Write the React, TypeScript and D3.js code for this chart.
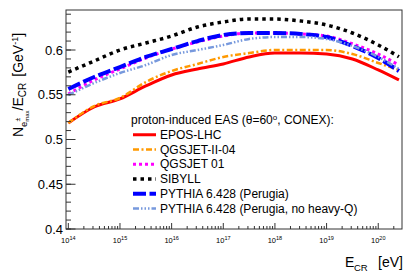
import React from "react";
import * as d3 from "d3";

const logE = [14, 14.5, 15, 15.5, 16, 16.5, 17, 17.5, 18, 18.5, 19, 19.5, 20, 20.4];
const eposLHC = [0.5184, 0.5363, 0.5453, 0.5598, 0.5721, 0.5788, 0.5844, 0.5922, 0.5966, 0.5966, 0.5955, 0.59, 0.5777, 0.5665];
const qgsjetII04 = [0.5184, 0.5374, 0.5464, 0.5642, 0.5765, 0.5844, 0.5922, 0.5966, 0.6, 0.6, 0.6, 0.5955, 0.5855, 0.5777];
const qgsjet01 = [0.5508, 0.5665, 0.5788, 0.591, 0.601, 0.609, 0.6156, 0.619, 0.619, 0.618, 0.6156, 0.607, 0.5955, 0.5832];
const sibyll = [0.5754, 0.5877, 0.6, 0.6078, 0.6156, 0.6257, 0.6313, 0.6346, 0.6346, 0.6324, 0.628, 0.619, 0.6056, 0.5925];
const pythia = [0.5564, 0.5698, 0.581, 0.5922, 0.6011, 0.61, 0.6168, 0.619, 0.619, 0.6179, 0.6145, 0.6045, 0.591, 0.5765];
const pythiaNoHQ = [0.5497, 0.5631, 0.5743, 0.5832, 0.5944, 0.6, 0.6056, 0.6123, 0.6145, 0.6145, 0.6123, 0.6045, 0.5922, 0.5788];

const yMajorTicks = [0.4, 0.45, 0.5, 0.55, 0.6];
const yTickLabels = ["0.4", "0.45", "0.5", "0.55", "0.6"];
const xDecades = [14, 15, 16, 17, 18, 19, 20];

const legendTitle = "proton-induced EAS (θ=60";
const legendTitleEnd = ", CONEX):";

const series = [
  { name: "EPOS-LHC", values: eposLHC, color: "#ff0000", width: 3, dash: "none" },
  { name: "QGSJET-II-04", values: qgsjetII04, color: "#ff9900", width: 2.5, dash: "6 2.5 2 2.5" },
  { name: "QGSJET 01", values: qgsjet01, color: "#ff00ff", width: 3, dash: "3 3" },
  { name: "SIBYLL", values: sibyll, color: "#000000", width: 3.5, dash: "3.5 4" },
  { name: "PYTHIA 6.428 (Perugia)", values: pythia, color: "#0000ff", width: 4, dash: "13 3.5" },
  { name: "PYTHIA 6.428 (Perugia, no heavy-Q)", values: pythiaNoHQ, color: "#7799dd", width: 2.5, dash: "6 2 1.5 2 1.5 2 1.5 2" },
];

const FONT = "'Liberation Sans', Arial, Helvetica, sans-serif";

export default function App() {
  const W = 414, H = 272;
  const left = 66, right = 402, top = 10, bottom = 229;
  const x = d3.scaleLog().domain([Math.pow(10, 13.955), Math.pow(10, 20.46)]).range([left, right]);
  const y = d3.scaleLinear().domain([0.4, 0.6447]).range([bottom, top]);

  const line = (vals: number[]) =>
    d3.line<number>()
      .x((_, i) => x(Math.pow(10, logE[i])))
      .y((v) => y(v))
      .curve(d3.curveMonotoneX)(vals) || "";

  const yMinor: number[] = d3.range(40, 65).map((v) => v / 100).filter((v) => y(v) >= top);
  const xMinor: number[] = [];
  for (let d = 13; d <= 20; d++) {
    for (let m = 2; m <= 9; m++) {
      const v = m * Math.pow(10, d);
      if (x(v) > left && x(v) < right) xMinor.push(v);
    }
  }

  const legendY0 = 124;
  const legendStep = 14.75;

  return (
    <svg width={W} height={H} style={{ position: "absolute", left: 0, top: 0 }} fontFamily={FONT}>
      <rect width={W} height={H} fill="#fff" />
      <defs>
        <clipPath id="plot">
          <rect x={left} y={top} width={right - left} height={bottom - top} />
        </clipPath>
      </defs>
      {/* curves */}
      <g clipPath="url(#plot)" fill="none">
        {series.map((s) => (
          <path key={s.name} d={line(s.values)} stroke={s.color} strokeWidth={s.width}
            strokeDasharray={s.dash === "none" ? undefined : s.dash} />
        ))}
      </g>
      {/* frame */}
      <rect x={left} y={top} width={right - left} height={bottom - top} fill="none" stroke="#333" strokeWidth={1} />
      {/* y ticks */}
      {yMinor.map((v) => (
        <line key={"ym" + v} x1={left} x2={left + 5} y1={y(v)} y2={y(v)} stroke="#333" />
      ))}
      {yMajorTicks.map((v, i) => (
        <g key={"y" + v}>
          <line x1={left} x2={left + 9.5} y1={y(v)} y2={y(v)} stroke="#333" />
          <text x={63} y={y(v) + 4.5} textAnchor="end" fontSize={13} fill="#000">{yTickLabels[i]}</text>
        </g>
      ))}
      {/* x ticks */}
      {xMinor.map((v) => (
        <line key={"xm" + v} x1={x(v)} x2={x(v)} y1={bottom} y2={bottom - 3} stroke="#333" />
      ))}
      {xDecades.map((d) => (
        <g key={"x" + d}>
          <line x1={x(Math.pow(10, d))} x2={x(Math.pow(10, d))} y1={bottom} y2={bottom - 6} stroke="#333" />
          <text x={x(Math.pow(10, d))} y={243} textAnchor="middle" fontSize={7.5} fill="#000">
            10<tspan dy={-3.5} fontSize={5.5}>{d}</tspan>
          </text>
        </g>
      ))}
      {/* axis titles */}
      <text x={345} y={267} fontSize={14} fill="#000">E</text>
      <text x={354} y={270.5} fontSize={9.5} fill="#000">CR</text>
      <text x={403} y={267} textAnchor="end" fontSize={14} fill="#000">[eV]</text>
      <text transform="translate(23,137) rotate(-90)" fontSize={14} fill="#000">
        N<tspan dy={3.5} fontSize={9.5}>e</tspan>
        <tspan dy={-6.5} fontSize={7}>±</tspan>
        <tspan dx={-4} dy={9} fontSize={6}>max</tspan>
        <tspan dy={-6}>/E</tspan>
        <tspan dy={3} fontSize={10}>CR</tspan>
        <tspan dx={6} dy={-3}>[GeV</tspan>
        <tspan dy={-5.5} fontSize={9}>-1</tspan>
        <tspan dy={5.5}>]</tspan>
      </text>
      {/* legend */}
      <text x={131} y={legendY0} fontSize={12} fill="#000">
        {legendTitle}<tspan dy={-4.5} fontSize={8}>o</tspan><tspan dy={4.5}>{legendTitleEnd}</tspan>
      </text>
      {series.map((s, i) => {
        const by = legendY0 + legendStep * (i + 1);
        return (
          <g key={"leg" + s.name}>
            <line x1={133} x2={156} y1={by - 4} y2={by - 4} stroke={s.color} strokeWidth={s.width}
              strokeDasharray={s.dash === "none" ? undefined : s.dash} />
            <text x={160} y={by} fontSize={12} fill="#000">{s.name}</text>
          </g>
        );
      })}
    </svg>
  );
}
